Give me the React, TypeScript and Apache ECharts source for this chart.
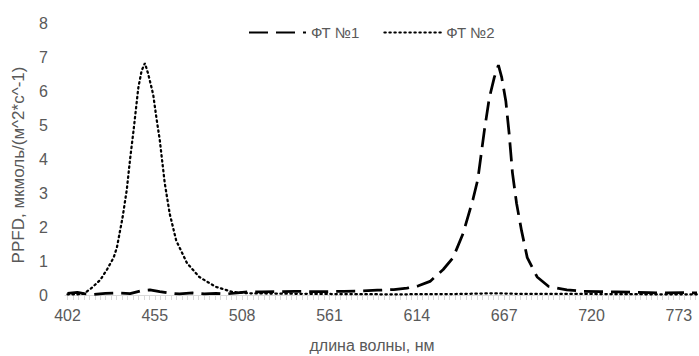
import React, { useEffect, useRef } from "react";
import * as echarts from "echarts";

const seriesNames = ["ФТ №1", "ФТ №2"];
const xLabels = [402, 455, 508, 561, 614, 667, 720, 773];
const yTicks = [0, 1, 2, 3, 4, 5, 6, 7, 8];

const ft1X = [402, 408, 412, 418, 425, 432, 440, 447, 452, 458, 463, 470, 478, 485, 492, 498, 505, 512, 520, 530, 540, 550, 560, 570, 580, 590, 600, 608, 615, 622, 630, 636, 642, 648, 651, 655, 658, 661, 663.5, 665.5, 668, 670, 672, 674.5, 677.5, 681, 687, 694, 705, 715, 725, 735, 745, 755, 765, 775, 784];
const ft1Y = [0.05, 0.08, 0.04, 0.02, 0.05, 0.06, 0.04, 0.13, 0.15, 0.1, 0.06, 0.03, 0.06, 0.03, 0.05, 0.03, 0.06, 0.1, 0.09, 0.1, 0.11, 0.1, 0.1, 0.11, 0.12, 0.14, 0.16, 0.2, 0.27, 0.4, 0.75, 1.1, 1.8, 2.8, 3.4, 4.85, 5.8, 6.4, 6.76, 6.4, 5.7, 4.75, 3.6, 2.7, 1.9, 1.1, 0.53, 0.25, 0.15, 0.11, 0.1, 0.09, 0.08, 0.07, 0.06, 0.07, 0.06];

const ft2X = [402, 408, 412, 417, 422, 426, 430, 432, 435.5, 438, 440, 442, 445, 447, 449, 451, 454, 456, 458, 461, 464, 468, 474.5, 482, 492, 502, 512, 530, 560, 600, 640, 660, 680, 720, 760, 784];
const ft2Y = [0.02, 0.02, 0.04, 0.22, 0.45, 0.75, 1.1, 1.4, 2.3, 3.1, 4.0, 4.8, 6.1, 6.6, 6.82, 6.5, 5.9, 5.2, 4.56, 3.3, 2.4, 1.6, 0.94, 0.53, 0.24, 0.09, 0.05, 0.04, 0.03, 0.02, 0.03, 0.05, 0.03, 0.03, 0.02, 0.02];

const X_MIN = 400.5;
const X_MAX = 784;
const TICK_STEP = 53 / 16;

export default function App() {
  const ref = useRef<HTMLDivElement>(null);
  useEffect(() => {
    if (!ref.current) return;
    const chart = echarts.init(ref.current, null, { renderer: "svg" });
    const tickVals: number[] = [];
    for (let v = xLabels[0]; v <= X_MAX; v += TICK_STEP) tickVals.push(v);
    const font = "Liberation Sans";
    const textColor = "#595959";
    chart.setOption({
      animation: false,
      backgroundColor: "#ffffff",
      textStyle: { fontFamily: font },
      grid: { left: 65, right: 2, top: 23, bottom: 61 },
      legend: {
        left: 243,
        top: 20,
        itemWidth: 57,
        itemHeight: 14,
        itemGap: 24,
        itemStyle: { opacity: 0 },
        textStyle: { color: textColor, fontSize: 15, fontFamily: font },
        data: seriesNames,
      },
      xAxis: {
        type: "value",
        min: X_MIN,
        max: X_MAX,
        splitLine: { show: false },
        axisLine: { show: true, lineStyle: { color: "#d9d9d9", width: 1 } },
        axisTick: { show: true, customValues: tickVals, length: 5, lineStyle: { color: "#d9d9d9" } },
        axisLabel: {
          customValues: xLabels,
          color: textColor,
          fontSize: 16,
          margin: 12,
          formatter: (v: number) => String(Math.round(v)),
        },
      },
      yAxis: {
        type: "value",
        min: 0,
        max: 8,
        interval: 1,
        splitLine: { show: false },
        axisLine: { show: false },
        axisTick: { show: false },
        axisLabel: { color: textColor, fontSize: 16, margin: 17 },
      },
      graphic: [
        {
          type: "text",
          x: 372,
          y: 345,
          style: { text: "длина волны, нм", fill: textColor, font: `16px "${font}"`, align: "center", verticalAlign: "middle" },
        },
        {
          type: "text",
          x: 18,
          y: 165,
          rotation: Math.PI / 2,
          style: { text: "PPFD, мкмоль/(м^2*с^-1)", fill: textColor, font: `17px "${font}"`, align: "center", verticalAlign: "middle" },
        },
      ],
      series: [
        {
          name: seriesNames[0],
          type: "line",
          showSymbol: false,
          symbol: "none",
          data: ft1X.map((x, i) => [x, ft1Y[i]]),
          lineStyle: { color: "#000", width: 2.75, type: [19, 8], cap: "butt" },
          itemStyle: { color: "#000" },
        },
        {
          name: seriesNames[1],
          type: "line",
          showSymbol: false,
          symbol: "none",
          data: ft2X.map((x, i) => [x, ft2Y[i]]),
          lineStyle: { color: "#000", width: 2.25, type: [1.5, 3.5], cap: "round" },
          itemStyle: { color: "#000" },
        },
      ],
    });
    return () => chart.dispose();
  }, []);
  return <div ref={ref} style={{ width: 699, height: 356, position: "absolute", left: 0, top: 0 }} />;
}
